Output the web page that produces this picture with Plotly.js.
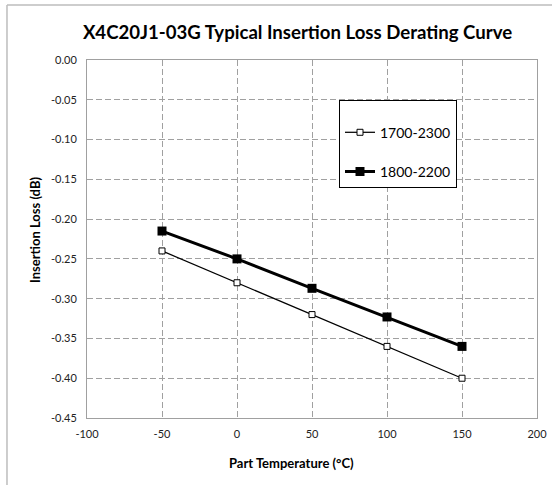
<!DOCTYPE html>
<html>
<head>
<meta charset="utf-8">
<script src="https://cdn.plot.ly/plotly-3.0.1.min.js"></script>
<style>html,body{margin:0;padding:0;background:#fff;}#chart{width:552px;height:485px;}</style>
</head>
<body>
<div id="chart"></div>
<script>
const temperatures = [-50, 0, 50, 100, 150];
const loss_1700_2300 = [-0.24, -0.28, -0.32, -0.36, -0.40];
const loss_1800_2200 = [-0.215, -0.25, -0.287, -0.323, -0.36];
const xTickVals = [-100, -50, 0, 50, 100, 150, 200];
const xTickText = ['-100', '-50', '0', '50', '100', '150', '200'];
const yTickVals = [0, -0.05, -0.10, -0.15, -0.20, -0.25, -0.30, -0.35, -0.40, -0.45];
const yTickText = ['0.00', '-0.05', '-0.10', '-0.15', '-0.20', '-0.25', '-0.30', '-0.35', '-0.40', '-0.45'];

const FONT = 'Lato, "Open Sans", sans-serif';

const traces = [
  {
    x: temperatures, y: loss_1700_2300, name: '1700-2300', mode: 'lines+markers',
    line: {color: '#000', width: 1.25},
    marker: {symbol: 'square', size: 6, color: '#fff', line: {color: '#000', width: 1}},
    legendgroup: 'a'
  },
  {
    x: temperatures, y: loss_1800_2200, name: '1800-2200', mode: 'lines+markers',
    line: {color: '#000', width: 3},
    marker: {symbol: 'square', size: 9, color: '#000', line: {color: '#000', width: 0}},
    legendgroup: 'b'
  }
];

const layout = {
  width: 552, height: 485,
  margin: {l: 87, r: 15, t: 60, b: 67},
  paper_bgcolor: '#fff', plot_bgcolor: '#fff',
  font: {family: FONT, size: 11, color: '#222'},
  title: {
    text: '<b>X4C20J1-03G Typical Insertion Loss Derating Curve</b>',
    font: {family: FONT, size: 18.6, color: '#000'},
    x: 0.539, xref: 'container', xanchor: 'center',
    y: 0.932, yref: 'container', yanchor: 'middle'
  },
  xaxis: {
    range: [-100, 200], tickvals: xTickVals, ticktext: xTickText,
    showgrid: true, gridcolor: '#a0a0a0', griddash: '6px,3px', gridwidth: 1,
    zeroline: false, showline: true, linecolor: '#a0a0a0', linewidth: 1, mirror: true,
    ticks: '', ticklabelstandoff: 6, tickfont: {size: 11, color: '#222'}
  },
  yaxis: {
    range: [-0.45, 0], tickvals: yTickVals, ticktext: yTickText,
    showgrid: true, gridcolor: '#a0a0a0', griddash: '6px,3px', gridwidth: 1,
    zeroline: false, showline: true, linecolor: '#a0a0a0', linewidth: 1, mirror: true,
    ticks: '', ticklabelstandoff: 7, tickfont: {size: 11, color: '#222'}
  },
  annotations: [
    {text: '<b>Part Temperature (°C)</b>', xref: 'paper', yref: 'paper', x: (291 - 87) / 450, y: (418 - 463) / 358,
     xanchor: 'center', yanchor: 'middle', showarrow: false, font: {family: FONT, size: 13, color: '#000'}},
    {text: '<b>Insertion Loss (dB)</b>', xref: 'paper', yref: 'paper', x: (35 - 87) / 450, y: (418 - 230) / 358,
     xanchor: 'center', yanchor: 'middle', textangle: -90, showarrow: false, font: {family: FONT, size: 13, color: '#000'}}
  ],
  showlegend: true,
  legend: {
    x: (339 - 87) / 450, y: 0.888, xanchor: 'left', yanchor: 'top',
    bgcolor: '#fff', bordercolor: '#000', borderwidth: 1,
    font: {family: FONT, size: 14, color: '#000'},
    title: {text: '&nbsp;', side: 'top', font: {size: 12}},
    traceorder: 'grouped', tracegroupgap: 18, itemwidth: 30
  },
  shapes: [
    {type: 'line', xref: 'paper', yref: 'paper', x0: -0.1778, x1: -0.1778, y0: 1.1536, y1: -0.19, line: {color: '#bdbdbd', width: 1.5}},
    {type: 'line', xref: 'paper', yref: 'paper', x0: -0.1778, x1: 1.04, y0: 1.1536, y1: 1.1536, line: {color: '#bdbdbd', width: 1.5}}
  ]
};

Plotly.newPlot('chart', traces, layout, {displayModeBar: false, staticPlot: true});
</script>
</body>
</html>
